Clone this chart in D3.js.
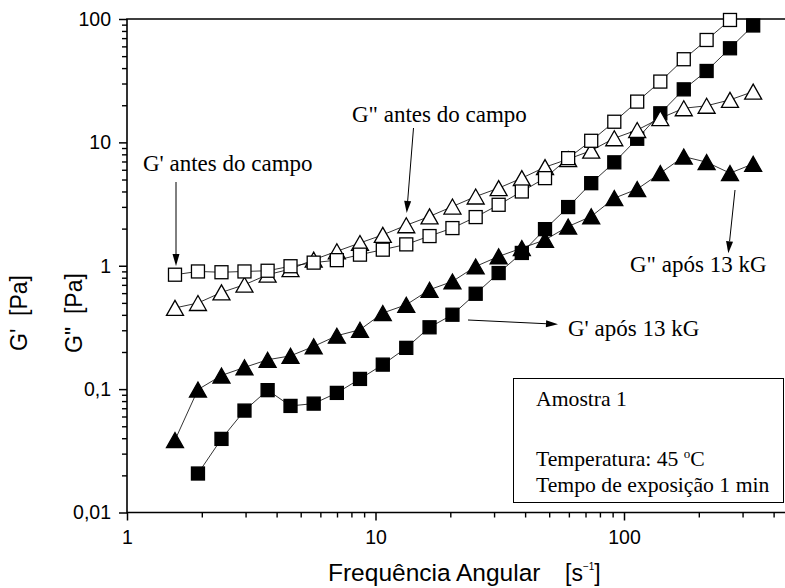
<!DOCTYPE html>
<html>
<head>
<meta charset="utf-8">
<script src="https://cdn.jsdelivr.net/npm/d3@7"></script>
<style>
  body { margin: 0; background: #fff; }
  svg { display: block; }
  .sans { font-family: "Liberation Sans", Arial, sans-serif; }
  .serif { font-family: "Liberation Serif", "Times New Roman", serif; }
</style>
</head>
<body>
<svg id="chart" width="785" height="588"></svg>
<script>
// frequencia angular [1/s]
const freq = [1.56, 1.93, 2.40, 2.97, 3.68, 4.55, 5.64, 6.99, 8.66, 10.7, 13.3, 16.5, 20.4,
  25.3, 31.3, 38.8, 48.1, 59.6, 73.8, 91.4, 113, 140, 174, 215, 267, 331]

// G' antes do campo (quadrado aberto)
const gAntes = [0.846, 0.899, 0.886, 0.899, 0.911, 0.991, 1.06, 1.11, 1.23, 1.35, 1.49, 1.74, 2.02,
  2.48, 3.12, 4.00, 5.13, 7.45, 10.3, 14.7, 21.4, 31.1, 47.2, 67.6, 98.2, null]
// G' após 13 kG (quadrado cheio)
const gApos = [null, 0.0207, 0.0395, 0.0670, 0.0981, 0.0731, 0.0763, 0.0932, 0.121, 0.158, 0.216, 0.317, 0.401,
  0.593, 0.873, 1.27, 1.98, 2.99, 4.67, 6.89, 10.7, 17.2, 26.9, 37.9, 57.9, 88.6]
// G'' antes do campo (triangulo aberto)
const g2Antes = [0.455, 0.499, 0.608, 0.702, 0.846, 0.940, 1.12, 1.31, 1.53, 1.78, 2.13, 2.51, 3.02,
  3.64, 4.26, 5.13, 6.30, 7.31, 8.58, 10.8, 12.6, 15.7, 18.9, 19.8, 22.1, 25.8]
// G'' após 13 kG (triangulo cheio)
const g2Apos = [0.0386, 0.0991, 0.129, 0.150, 0.173, 0.186, 0.222, 0.271, 0.303, 0.414, 0.483, 0.639, 0.746,
  0.987, 1.19, 1.39, 1.62, 2.08, 2.51, 3.53, 4.18, 5.63, 7.67, 6.91, 5.63, 6.70]

const xMajor = [1, 10, 100]
const xMajorLabels = ["1", "10", "100"]
const yMajor = [0.01, 0.1, 1, 10, 100]
const yMajorLabels = ["0,01", "0,1", "1", "10", "100"]

const svg = d3.select("#chart")

const padLeft = 127, padTop = 19, padBottom = 512.5
const decadeX = 248.5

const x = d3.scaleLog().domain([1, 500]).range([padLeft, padLeft + decadeX * Math.log10(500)])
const y = d3.scaleLog().domain([0.01, 100]).range([padBottom, padTop])

// minor ticks 2..9 of each decade
const minorOf = (lo, hi) => {
  const out = []
  for (let d = lo; d < hi; d *= 10) {
    for (let k = 2; k <= 9; k++) out.push(d * k)
  }
  return out
}
const xMinor = minorOf(1, 1000).filter(v => v < 450)
const yMinor = minorOf(0.01, 100)

const sansFont = "Liberation Sans, Arial, sans-serif"

// eixo x
svg.append("g")
  .attr("transform", `translate(0,${padBottom})`)
  .call(d3.axisBottom(x).tickValues(xMinor).tickSize(5).tickFormat(""))
  .call(g => g.select(".domain").remove())
  .call(g => g.selectAll("line").attr("stroke", "#000").attr("stroke-width", 1.4))

svg.append("g")
  .attr("transform", `translate(0,${padBottom})`)
  .call(d3.axisBottom(x).tickValues(xMajor).tickSize(8).tickPadding(10)
    .tickFormat((d, i) => xMajorLabels[i]))
  .call(g => g.select(".domain").remove())
  .call(g => g.selectAll("line").attr("stroke", "#000").attr("stroke-width", 1.5))
  .call(g => g.selectAll("text").attr("fill", "#000").style("font-size", "19.5px").style("font-family", sansFont))

// eixo y
svg.append("g")
  .attr("transform", `translate(${padLeft},0)`)
  .call(d3.axisLeft(y).tickValues(yMinor).tickSize(5).tickFormat(""))
  .call(g => g.select(".domain").remove())
  .call(g => g.selectAll("line").attr("stroke", "#000").attr("stroke-width", 1.4))

svg.append("g")
  .attr("transform", `translate(${padLeft},0)`)
  .call(d3.axisLeft(y).tickValues(yMajor).tickSize(8).tickPadding(8)
    .tickFormat((d, i) => yMajorLabels[i]))
  .call(g => g.select(".domain").remove())
  .call(g => g.selectAll("line").attr("stroke", "#000").attr("stroke-width", 1.5))
  .call(g => g.selectAll("text").attr("fill", "#000").style("font-size", "19.5px").style("font-family", sansFont))

// moldura
svg.append("path")
  .attr("d", `M785,${padTop}H${padLeft}V${padBottom}H785`)
  .attr("fill", "none")
  .attr("stroke", "#000")
  .attr("stroke-width", 1.6)

// series
const series = [
  { values: g2Apos, shape: "tri", fill: "#000" },
  { values: gApos, shape: "sq", fill: "#000" },
  { values: g2Antes, shape: "tri", fill: "#fff" },
  { values: gAntes, shape: "sq", fill: "#fff" },
]

const line = d3.line()
  .defined(d => d[1] != null)
  .x(d => x(d[0]))
  .y(d => y(d[1]))

series.forEach(s => {
  const pts = freq.map((f, i) => [f, s.values[i]])
  svg.append("path")
    .datum(pts)
    .attr("d", line)
    .attr("fill", "none")
    .attr("stroke", "#000")
    .attr("stroke-width", 0.8)
})

const sqSize = 13
const triW = 17, triH = 15

series.forEach(s => {
  const pts = freq.map((f, i) => [f, s.values[i]]).filter(d => d[1] != null)
  const g = svg.append("g")
  if (s.shape === "sq") {
    g.selectAll("rect").data(pts).enter().append("rect")
      .attr("x", d => x(d[0]) - sqSize / 2)
      .attr("y", d => y(d[1]) - sqSize / 2)
      .attr("width", sqSize)
      .attr("height", sqSize)
      .attr("fill", s.fill)
      .attr("stroke", "#000")
      .attr("stroke-width", 1.3)
  } else {
    g.selectAll("path").data(pts).enter().append("path")
      .attr("d", d => {
        const cx = x(d[0]), cy = y(d[1])
        return `M${cx},${cy - triH / 2}L${cx + triW / 2},${cy + triH / 2}L${cx - triW / 2},${cy + triH / 2}Z`
      })
      .attr("fill", s.fill)
      .attr("stroke", "#000")
      .attr("stroke-width", 1.3)
      .attr("stroke-linejoin", "miter")
  }
})

// setas
const arrow = (x1, y1, x2, y2) => {
  const a = Math.atan2(y2 - y1, x2 - x1)
  const len = 12, hw = 3.5
  const bx = x2 - len * Math.cos(a), by = y2 - len * Math.sin(a)
  svg.append("line")
    .attr("x1", x1).attr("y1", y1).attr("x2", bx).attr("y2", by)
    .attr("stroke", "#000").attr("stroke-width", 1)
  svg.append("path")
    .attr("d", `M${x2},${y2}L${bx + hw * Math.sin(a)},${by - hw * Math.cos(a)}L${bx - hw * Math.sin(a)},${by + hw * Math.cos(a)}Z`)
    .attr("fill", "#000")
}

arrow(176, 182, 176, 266)
arrow(413.5, 128, 406.7, 213)
arrow(468, 320, 558, 324.3)
arrow(735, 190, 728.3, 253.3)

const note = (tx, ty, str) => {
  svg.append("text")
    .attr("class", "serif")
    .attr("x", tx).attr("y", ty)
    .style("font-size", "23px")
    .style("white-space", "pre")
    .text(str)
}

note(143, 171, "G' antes do campo")
note(352, 122, "G\" antes do campo")
note(630, 272, "G\" após 13 kG")
note(568, 336, "G' após 13 kG")

// caixa de info
svg.append("rect")
  .attr("x", 513.5).attr("y", 378.5)
  .attr("width", 270).attr("height", 124)
  .attr("fill", "#fff")
  .attr("stroke", "#000")
  .attr("stroke-width", 1)

const info = svg.append("g").attr("class", "serif").style("font-size", "21.7px")
info.append("text").attr("x", 536).attr("y", 406).text("Amostra 1")
const temp = info.append("text").attr("x", 536).attr("y", 466)
temp.append("tspan").text("Temperatura: 45 ")
temp.append("tspan").attr("dy", -8).style("font-size", "13px").text("o")
temp.append("tspan").attr("dy", 8).text("C")
info.append("text").attr("x", 536).attr("y", 492).text("Tempo de exposição 1 min")

// titulos dos eixos
svg.append("text")
  .attr("class", "sans")
  .attr("x", 328).attr("y", 581)
  .style("font-size", "24.5px")
  .text("Frequência Angular")

const unit = svg.append("text")
  .attr("class", "sans")
  .attr("x", 565).attr("y", 581)
  .style("font-size", "23px")
unit.append("tspan").text("[s")
unit.append("tspan").attr("dy", -11).style("font-size", "10px").text("−1")
unit.append("tspan").attr("dy", 11).text("]")

svg.append("text")
  .attr("class", "sans")
  .attr("transform", "translate(27,313) rotate(-90)")
  .attr("text-anchor", "middle")
  .style("font-size", "23px")
  .style("white-space", "pre")
  .text("G'  [Pa]")

svg.append("text")
  .attr("class", "sans")
  .attr("transform", "translate(82,313) rotate(-90)")
  .attr("text-anchor", "middle")
  .style("font-size", "23px")
  .style("white-space", "pre")
  .text("G\"  [Pa]")
</script>
</body>
</html>
